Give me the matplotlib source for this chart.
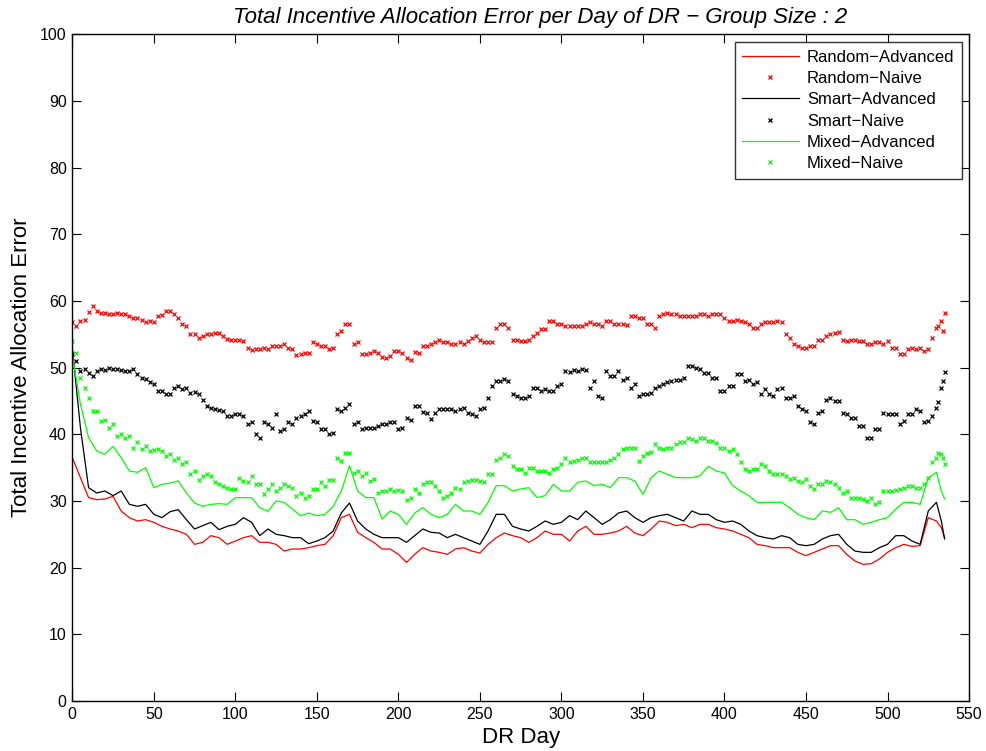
import numpy as np
import matplotlib
matplotlib.use("Agg")
import matplotlib.pyplot as plt

plt.rcParams['font.family'] = ['Liberation Sans', 'DejaVu Sans']

# jours (echantillonnes tous les 5 jours, plus la fin)
days = np.r_[np.arange(0, 531, 5), 533, 535]
# jours intermediaires, lus seulement pour les series "Naive" (marqueurs)
days_mid = np.r_[np.arange(2.5, 528, 5), 531, 534]

random_adv = [36.5, 33.5, 30.5, 30.2, 30.3, 30.7, 28.5, 27.5, 27.0, 27.2, 26.8, 26.2, 25.8, 25.5, 25.0, 23.5, 23.8, 24.8, 24.5,
              23.5, 24.0, 24.5, 24.8, 23.8, 23.8, 23.5, 22.5, 22.8, 22.8, 23.0, 23.3, 23.5, 24.8, 27.5, 28.0, 25.3, 24.5, 23.8,
              22.8, 22.8, 22.0, 20.8, 22.0, 23.0, 22.5, 22.3, 22.0, 22.8, 23.0, 22.5, 22.2, 23.5, 24.5, 25.2, 24.8, 24.5, 23.8, 24.5,
              25.5, 25.0, 25.0, 24.0, 25.5, 26.2, 25.0, 25.0, 25.2, 25.5, 26.2, 25.2, 24.8, 25.8, 27.0, 26.8, 26.3, 26.5, 26.0, 26.5,
              26.5, 26.0, 25.8, 25.5, 25.0, 24.5, 23.5, 23.3, 23.0, 23.0, 23.0, 22.3,
              21.8, 22.3, 22.8, 23.3, 23.3, 22.0, 21.0, 20.5, 20.6, 21.3,
              22.3, 23.0, 23.5, 23.2, 23.3, 27.5, 27.0, 26.0, 24.5]
random_naive = [56.8, 57.0, 58.3, 58.5, 58.2, 58.0, 58.1, 57.8, 57.5, 56.8, 56.8, 57.9, 58.5, 57.5, 56.2, 55.0, 54.8, 55.0, 55.2,
                54.3, 54.2, 54.0, 52.6, 52.8, 52.8, 53.3, 53.5, 52.8, 52.0, 52.2, 53.5, 53.3, 53.0, 55.5, 56.5, 53.8, 52.0, 52.5,
                51.6, 51.8, 52.5, 51.5, 52.3, 53.2, 53.5, 54.2, 53.8, 53.5, 53.6, 54.5, 54.2, 53.8, 56.0, 56.5, 54.2, 54.0, 54.2, 55.2,
                55.8, 57.0, 56.5, 56.3, 56.2, 56.5, 56.5, 56.3, 57.0, 56.5, 56.4, 57.8, 57.5, 56.5, 57.7, 58.2, 58.0, 57.8, 57.7, 58.0,
                57.8, 58.0, 57.5, 57.0, 57.0, 56.5, 56.0, 56.8, 56.8, 56.8, 54.5, 53.2,
                53.0, 53.3, 54.2, 55.0, 55.3, 54.0, 54.2, 54.0, 53.5, 53.8,
                54.0, 53.0, 52.0, 53.0, 53.0, 52.8, 56.0, 57.0, 58.2]
random_naive_mid = [56.2, 57.2, 59.2, 58.2, 58.0, 58.2, 58.0, 57.5, 57.2, 57.0, 57.8, 58.5, 58.0, 56.5, 55.0, 54.5, 55.0, 55.2,
                    54.8, 54.2, 54.2, 53.0, 52.8, 53.0, 53.2, 53.2, 53.0, 51.9, 52.2, 53.8, 53.2, 52.8, 55.0, 56.5, 53.5, 52.0,
                    52.2, 52.2, 51.5, 52.5, 52.2, 51.2, 52.2, 53.2, 53.8, 53.8, 53.5, 53.8, 54.0, 54.8, 53.8, 53.8, 56.5, 56.0,
                    54.2, 54.0, 54.8, 55.8, 57.0, 56.5, 56.2, 56.2, 56.2, 56.8, 56.5, 57.0, 56.5, 56.5, 57.8, 57.5, 56.5, 56.0,
                    58.0, 58.0, 57.8, 57.8, 57.8, 58.0, 58.0, 58.0, 57.0, 57.2, 56.8, 56.0, 56.5, 56.8, 57.0, 55.0, 53.5,
                    53.0, 53.2, 54.2, 54.8, 55.2, 54.2, 54.2, 54.0, 53.5, 53.8, 53.5, 53.0, 52.0, 52.8, 52.8, 52.5, 54.5,
                    56.3, 55.5]
smart_adv = [53.0, 41.0, 32.0, 31.2, 31.5, 30.8, 31.5, 29.5, 29.2, 29.5, 28.0, 27.5, 28.4, 28.7, 27.2, 25.8, 26.3, 26.8, 25.7,
             26.2, 26.5, 27.5, 26.8, 24.8, 25.8, 25.0, 24.8, 24.5, 24.5, 23.6, 24.0, 24.5, 25.5, 28.2, 29.7, 27.0, 25.8, 25.0,
             24.5, 24.5, 24.5, 23.8, 24.8, 25.8, 25.3, 25.2, 24.5, 25.0, 24.5, 24.0, 23.5, 25.5, 28.0, 28.0, 26.2, 25.8, 25.5, 26.2,
             27.0, 26.5, 26.8, 27.8, 27.2, 28.5, 27.5, 26.5, 27.2, 28.2, 28.5, 27.5, 26.8, 27.5, 27.8, 28.0, 27.5, 27.0, 28.5, 28.0,
             28.0, 27.2, 26.8, 27.0, 26.5, 25.5, 24.8, 24.5, 24.3, 24.8, 24.5, 23.5,
             23.3, 23.5, 24.3, 24.8, 25.0, 23.5, 22.5, 22.3, 22.3, 23.0,
             23.5, 24.8, 24.8, 24.0, 23.5, 28.5, 29.8, 27.0, 24.3]
smart_naive = [52.0, 49.5, 49.2, 49.5, 49.7, 49.8, 49.6, 49.5, 49.0, 48.3, 47.6, 46.5, 46.0, 47.2, 47.0, 46.3, 45.2, 44.0, 43.6,
               42.8, 43.0, 42.8, 41.8, 39.5, 41.5, 43.0, 40.8, 41.5, 42.8, 43.5, 41.8, 40.8, 40.2, 43.5, 44.5, 41.8, 41.0, 41.0,
               41.5, 41.8, 40.8, 42.5, 44.2, 43.3, 42.3, 43.8, 43.8, 43.5, 44.0, 43.0, 43.8, 45.5, 48.0, 48.3, 46.0, 45.5, 45.8, 47.0,
               46.8, 46.5, 47.5, 49.3, 49.5, 49.7, 48.0, 45.5, 48.8, 49.5, 48.5, 47.5, 46.0, 46.2, 47.3, 47.8, 48.2, 48.5, 50.2, 49.8,
               49.2, 48.5, 46.5, 47.2, 49.0, 48.2, 47.8, 46.8, 45.8, 47.0, 45.5, 44.2,
               43.5, 41.5, 43.5, 45.5, 45.0, 43.0, 42.5, 41.3, 39.5, 40.8,
               43.0, 43.0, 42.0, 43.0, 43.5, 42.0, 44.0, 47.0, 49.4]
smart_naive_mid = [51.0, 49.8, 48.8, 49.8, 49.9, 49.8, 49.5, 49.8, 48.5, 47.8, 46.5, 46.0, 47.0, 46.8, 46.2, 46.0, 44.2, 43.8,
                   43.5, 42.8, 43.0, 41.5, 40.0, 41.8, 41.0, 40.5, 41.8, 42.5, 43.0, 42.0, 40.8, 40.0, 43.8, 44.0, 41.5, 40.8,
                   41.0, 41.2, 41.5, 41.8, 41.0, 42.2, 44.2, 43.2, 43.2, 43.8, 43.8, 43.8, 43.2, 42.8, 44.0, 47.2, 48.0, 48.0,
                   45.8, 45.5, 47.0, 46.5, 46.5, 47.2, 49.5, 49.6, 49.8, 47.0, 45.8, 49.5, 48.8, 48.2, 47.0, 45.8, 46.0, 47.0,
                   47.5, 48.0, 48.2, 50.2, 50.0, 49.2, 48.5, 46.5, 47.2, 49.0, 48.0, 47.5, 46.0, 46.0, 46.8, 45.5, 45.8, 43.8,
                   41.8, 43.2, 45.2, 45.0, 43.2, 42.5, 41.2, 39.5, 40.8, 43.2, 43.0, 41.5, 43.0, 43.8, 41.8, 42.8,
                   44.8, 48.0]
mixed_adv = [52.0, 44.5, 39.5, 37.5, 37.0, 38.2, 36.5, 34.5, 34.3, 35.0, 32.0, 32.5, 32.7, 33.0, 31.2, 29.7, 29.2, 29.5, 29.6,
             29.5, 30.5, 30.5, 30.5, 29.0, 28.5, 30.0, 29.8, 28.8, 27.8, 28.2, 27.8, 28.0, 29.2, 31.5, 35.3, 31.5, 30.5, 30.5,
             27.3, 28.5, 28.0, 26.5, 28.2, 29.0, 28.0, 27.5, 28.0, 29.5, 28.5, 28.5, 28.0, 29.8, 32.3, 32.3, 31.5, 31.8, 32.0, 30.5,
             30.8, 32.5, 31.5, 31.5, 32.8, 33.0, 32.3, 32.5, 32.0, 33.5, 33.5, 33.0, 31.0, 33.5, 34.5, 34.0, 33.5, 33.5, 33.5, 33.8,
             35.2, 34.5, 34.2, 32.3, 31.5, 30.8, 29.8, 29.8, 29.8, 29.8, 29.0, 28.0,
             27.5, 27.2, 28.5, 28.3, 29.0, 27.2, 27.2, 26.5, 26.8, 27.2,
             27.5, 28.8, 29.8, 29.8, 29.5, 33.5, 34.3, 31.5, 30.3]
mixed_naive = [54.0, 48.5, 45.5, 43.5, 42.2, 41.5, 40.0, 39.7, 38.8, 38.3, 37.7, 37.5, 37.0, 36.5, 35.8, 34.5, 33.8, 33.7, 32.6,
               32.0, 31.8, 33.0, 33.8, 32.5, 31.8, 31.5, 32.6, 32.0, 31.2, 30.8, 31.8, 32.3, 33.2, 36.0, 37.2, 34.5, 34.2, 33.3,
               31.5, 31.8, 31.6, 30.2, 31.8, 32.5, 32.8, 31.5, 30.8, 32.0, 32.8, 33.2, 33.0, 34.0, 36.2, 37.0, 35.2, 34.8, 35.0, 34.5,
               34.5, 34.8, 35.5, 35.8, 36.2, 36.5, 35.8, 35.8, 36.2, 37.0, 38.0, 38.0, 36.8, 37.3, 38.0, 38.0, 38.5, 38.8, 39.3, 39.5,
               39.0, 38.7, 38.0, 37.8, 35.8, 34.5, 34.8, 35.3, 34.0, 34.0, 33.3, 33.0,
               33.3, 31.8, 32.5, 32.8, 32.0, 31.5, 30.5, 30.3, 30.5, 29.8,
               31.5, 31.6, 32.0, 32.2, 32.0, 33.5, 36.5, 37.0, 35.5]
mixed_naive_mid = [52.2, 47.0, 43.5, 42.0, 41.0, 39.8, 39.5, 38.0, 37.8, 37.5, 37.8, 36.8, 36.2, 35.5, 34.0, 33.2, 34.0, 32.8,
                   32.2, 31.8, 33.5, 32.8, 32.5, 31.0, 32.5, 32.0, 32.2, 30.8, 30.5, 31.8, 32.8, 33.2, 36.5, 37.2, 34.2, 33.8,
                   33.0, 31.2, 31.5, 31.5, 31.5, 30.5, 31.2, 32.8, 32.2, 30.5, 31.2, 31.8, 33.0, 33.2, 32.8, 34.0, 36.5, 36.8,
                   34.8, 34.2, 35.0, 34.5, 34.2, 35.0, 36.5, 36.0, 36.5, 35.8, 35.8, 35.8, 36.5, 37.8, 38.0, 36.0, 37.2, 38.5,
                   37.8, 38.0, 38.8, 39.5, 39.0, 39.5, 39.0, 38.0, 37.5, 37.0, 34.8, 34.8, 35.5, 34.5, 34.0, 33.8, 33.5, 32.8,
                   32.2, 32.5, 33.0, 32.5, 31.2, 30.5, 30.5, 30.0, 29.5, 31.5, 31.5, 31.8, 32.2, 32.0, 32.5, 35.8,
                   37.2, 36.5]

fig = plt.figure(figsize=(9.86, 7.51), dpi=100)
ax = fig.add_axes([0.0733, 0.0665, 0.9095, 0.888])

mk = dict(ls='none', marker='x', ms=3.2, mew=0.9)
ax.plot(days, random_adv, color='#ff0000', lw=0.9, label='Random\u2212Advanced')
ax.plot(np.r_[days, days_mid], random_naive + random_naive_mid, color='#ff0000', label='Random\u2212Naive', **mk)
ax.plot(days, smart_adv, color='black', lw=0.9, label='Smart\u2212Advanced')
ax.plot(np.r_[days, days_mid], smart_naive + smart_naive_mid, color='black', label='Smart\u2212Naive', **mk)
ax.plot(days, mixed_adv, color='#00ff00', lw=0.9, label='Mixed\u2212Advanced')
ax.plot(np.r_[days, days_mid], mixed_naive + mixed_naive_mid, color='#00ff00', label='Mixed\u2212Naive', **mk)

ax.set_xlim(0, 550)
ax.set_ylim(0, 100)
ax.set_xticks(range(0, 551, 50))
ax.set_yticks(range(0, 101, 10))
ax.tick_params(direction='in', length=6.7, width=0.8, top=True, right=True, labelsize=11.5, pad=4)
for s in ax.spines.values():
    s.set_linewidth(1.0)

ax.set_xlabel('DR Day', fontsize=16, labelpad=4)
ax.set_ylabel('Total Incentive Allocation Error', fontsize=16, labelpad=6)
ax.set_title('Total Incentive Allocation Error per Day of DR \u2212 Group Size : 2', fontsize=16, style='italic',
             x=0.522, pad=8)

leg = ax.legend(loc='upper right', bbox_to_anchor=(962 / 986, 1 - 42 / 751), bbox_transform=fig.transFigure,
                borderaxespad=0, fancybox=False, edgecolor='black', fontsize=12, handlelength=3.4,
                labelspacing=0.38, borderpad=0.45, handletextpad=0.5, markerscale=0.7)
leg.get_frame().set_linewidth(1.0)

fig.savefig('out.png', dpi=100)
